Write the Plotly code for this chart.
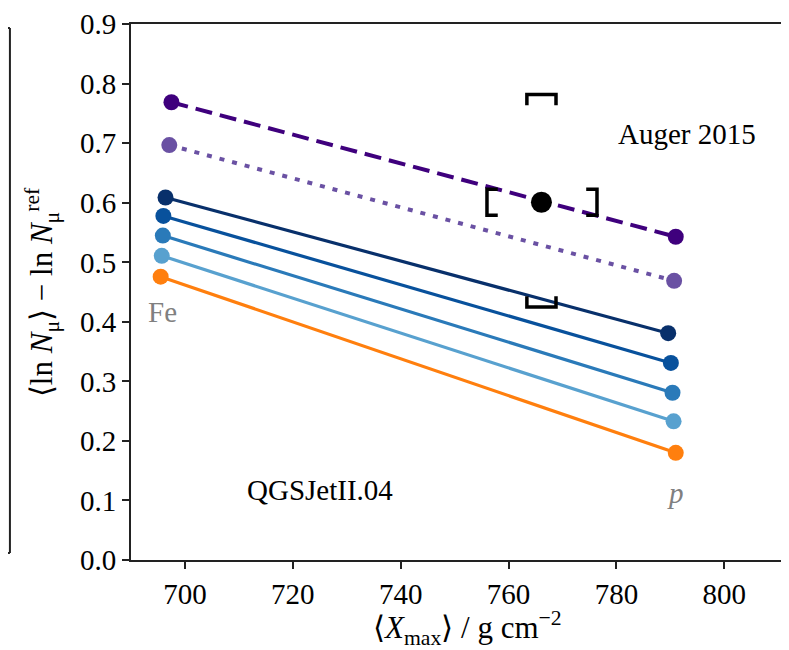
import plotly.graph_objects as go

# ---- data ----
series_names = ["dashed", "dotted", "s1", "s2", "s3", "s4", "s5"]
fe_x = [697.5, 697.1, 696.4, 696.0, 695.9, 695.7, 695.5]
fe_y = [0.769, 0.697, 0.609, 0.578, 0.545, 0.511, 0.476]
p_x = [791.0, 790.7, 789.6, 790.1, 790.4, 790.6, 791.0]
p_y = [0.543, 0.469, 0.381, 0.331, 0.281, 0.233, 0.180]

auger_x = [766.1]
auger_y = [0.601]
auger_sys_x_lo = [10.1]
auger_sys_x_hi = [10.3]
auger_sys_y_lo = [0.176]
auger_sys_y_hi = [0.181]

x_ticks = [700, 720, 740, 760, 780, 800]
y_ticks = [0.0, 0.1, 0.2, 0.3, 0.4, 0.5, 0.6, 0.7, 0.8, 0.9]

# ---- styles ----
colors = ["#3f007d", "#6a51a3", "#08306b", "#08519c", "#2a7ab9", "#58a1cf", "#ff7f0e"]
dashes = ["17px,8px", "5px,8px", "solid", "solid", "solid", "solid", "solid"]
widths = [4, 4, 3.2, 3.2, 3.2, 3.2, 3.2]
FONT = "Liberation Serif"

fig = go.Figure()

for i, name in enumerate(series_names):
    fig.add_trace(go.Scatter(
        x=[fe_x[i], p_x[i]], y=[fe_y[i], p_y[i]],
        mode="lines+markers", name=name,
        line=dict(color=colors[i], width=widths[i], dash=dashes[i]),
        marker=dict(color=colors[i], size=16),
        showlegend=False,
    ))

# Auger point with systematic brackets
cap_x = 2.0      # serif length of side brackets (x units)
half_h = 0.022   # half height of side brackets (y units)
half_w = 2.7     # half width of top/bottom brackets (x units)
cap_y = 0.018    # tip length of top/bottom brackets (y units)
for xc, yc, xl, xh, yl, yh in zip(auger_x, auger_y, auger_sys_x_lo, auger_sys_x_hi,
                                  auger_sys_y_lo, auger_sys_y_hi):
    L = xc - xl
    R = xc + xh
    T = yc + yh
    B = yc - yl
    bx = [L + cap_x, L, L, L + cap_x, None,
          R - cap_x, R, R, R - cap_x, None,
          xc - half_w, xc - half_w, xc + half_w, xc + half_w, None,
          xc - half_w, xc - half_w, xc + half_w, xc + half_w]
    by = [yc + half_h, yc + half_h, yc - half_h, yc - half_h, None,
          yc + half_h, yc + half_h, yc - half_h, yc - half_h, None,
          T - cap_y, T, T, T - cap_y, None,
          B + cap_y, B, B, B + cap_y]
    fig.add_trace(go.Scatter(x=bx, y=by, mode="lines",
                             line=dict(color="black", width=3.5),
                             showlegend=False, connectgaps=False))
fig.add_trace(go.Scatter(x=auger_x, y=auger_y, mode="markers",
                         marker=dict(color="black", size=21), showlegend=False))

annotations = [
    dict(x=711.1, y=0.118, xref="x", yref="y", text="QGSJetII.04", showarrow=False,
         xanchor="left", yanchor="middle", font=dict(size=29, color="black", family=FONT)),
    dict(x=793.1, y=0.715, xref="x", yref="y", text="Auger 2015", showarrow=False,
         xanchor="center", yanchor="middle", font=dict(size=29, color="black", family=FONT)),
    dict(x=695.8, y=0.417, xref="x", yref="y", text="Fe", showarrow=False,
         xanchor="center", yanchor="middle", font=dict(size=29, color="#808080", family=FONT)),
    dict(x=790.9, y=0.113, xref="x", yref="y", text="<i>p</i>", showarrow=False,
         xanchor="center", yanchor="middle", font=dict(size=29, color="#808080", family=FONT)),
    dict(x=0.512, y=-0.126, xref="paper", yref="paper",
         text="⟨<i>X</i><sub>max</sub>⟩ / g cm<sup>−2</sup>", showarrow=False,
         xanchor="center", yanchor="middle", font=dict(size=31, color="black", family=FONT)),
    dict(x=-0.135, y=0.5, xref="paper", yref="paper", textangle=-90,
         text="⟨ln <i>N</i><sub>μ</sub>⟩ − ln <i>N</i><sub>μ</sub><sup>ref</sup>", showarrow=False,
         xanchor="center", yanchor="middle", font=dict(size=31, color="black", family=FONT)),
]

# partial neighbouring panel frame at the left edge
shapes = [
    dict(type="line", xref="paper", yref="paper", x0=-0.184, x1=-0.184, y0=0.013, y1=0.9926,
         line=dict(color="#222", width=2)),
    dict(type="line", xref="paper", yref="paper", x0=-0.25, x1=-0.184, y0=0.9926, y1=0.9926,
         line=dict(color="#222", width=2)),
    dict(type="line", xref="paper", yref="paper", x0=-0.25, x1=-0.184, y0=0.013, y1=0.013,
         line=dict(color="#222", width=2)),
]

# the page body has an 8px margin, so the figure is 8px smaller than the window
fig.update_layout(
    width=781, height=642,
    margin=dict(l=123, r=0, t=12, b=90),
    plot_bgcolor="white", paper_bgcolor="white",
    font=dict(family=FONT, size=29, color="black"),
    annotations=annotations, shapes=shapes,
    showlegend=False,
)
fig.update_xaxes(range=[690, 812], tickvals=x_ticks, ticktext=[str(v) for v in x_ticks],
                 showline=True, linecolor="#222", linewidth=2, mirror=True,
                 ticks="outside", ticklen=7, tickwidth=1.8, tickcolor="#222",
                 ticklabeloverflow="allow",
                 showgrid=False, zeroline=False, tickfont=dict(size=29, family=FONT))
fig.update_yaxes(range=[0, 0.9004], tickvals=y_ticks, ticktext=[f"{v:.1f}" for v in y_ticks],
                 showline=True, linecolor="#222", linewidth=2, mirror=False,
                 ticks="outside", ticklen=7, tickwidth=1.8, tickcolor="#222",
                 ticklabeloverflow="allow",
                 showgrid=False, zeroline=False, tickfont=dict(size=29, family=FONT))

fig.write_html("out.html")
